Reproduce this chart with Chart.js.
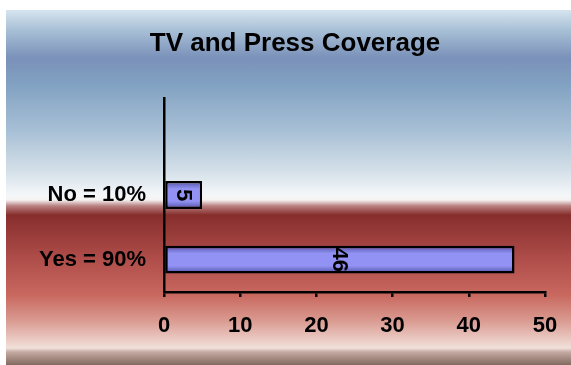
<!DOCTYPE html>
<html>
<head>
<meta charset="utf-8">
<script src="https://cdn.jsdelivr.net/npm/chart.js@4.4.0/dist/chart.umd.min.js"></script>
<style>
  html, body { margin: 0; padding: 0; background: #fff; }
  #wrap { position: relative; width: 571px; height: 365px; }
  #bg {
    position: absolute; left: 6px; top: 10px; right: 0; bottom: 0;
    background: linear-gradient(to bottom,
      #d6e4ef 0px, #a8c0d6 20px, #7a91b9 48px, #82a2c2 75px, #a7bfd5 120px,
      #d3dfe8 160px, #f4f7f9 185px, #f6f2f2 190px, #b88080 196px, #862e2c 205px,
      #b04e4b 250px, #c8685f 285px, #d9998f 310px, #f1e0da 338px, #c4aaa2 342px, #836a60 355px);
  }
  #myChart { position: absolute; left: 0; top: 0; }
</style>
</head>
<body>
<div id="wrap">
  <div id="bg"></div>
  <canvas id="myChart" width="571" height="365"></canvas>
</div>
<script>
// data
var chartTitle = 'TV and Press Coverage';
var categories = ['', 'No = 10%', 'Yes = 90%'];
var counts = [null, 5, 46];
var xMin = 0, xMax = 50, xStep = 10;

Chart.defaults.font.family = '"Liberation Sans", Arial, sans-serif';
Chart.defaults.font.weight = 'bold';
Chart.defaults.color = '#000';

// numbers written sideways inside the bars + the title
var barLabels = {
  id: 'barLabels',
  afterDatasetsDraw: function (chart) {
    var ctx = chart.ctx;
    chart.getDatasetMeta(0).data.forEach(function (bar, i) {
      if (counts[i] == null) return;
      ctx.save();
      ctx.translate((bar.x + bar.base) / 2, bar.y);
      ctx.rotate(Math.PI / 2);
      ctx.font = 'bold 22px "Liberation Sans", Arial, sans-serif';
      ctx.fillStyle = '#000';
      ctx.textAlign = 'center';
      ctx.textBaseline = 'middle';
      ctx.fillText(String(counts[i]), 0, 1);
      ctx.restore();
    });
    ctx.save();
    ctx.font = 'bold 26px "Liberation Sans", Arial, sans-serif';
    ctx.fillStyle = '#000';
    ctx.textAlign = 'center';
    ctx.textBaseline = 'alphabetic';
    ctx.fillText(chartTitle, 295, 51);
    ctx.restore();
  }
};

var ctx = document.getElementById('myChart');
var myChart = new Chart(ctx, {
  type: 'bar',
  plugins: [barLabels],
  data: {
    labels: categories,
    datasets: [{
      data: counts,
      borderColor: '#000',
      borderWidth: 2.5,
      borderSkipped: false,
      categoryPercentage: 1,
      barPercentage: 0.43,
      backgroundColor: function (c) {
        var chart = c.chart, ys = chart.scales.y;
        if (!ys || !chart.chartArea) return '#9090f0';
        var cy = ys.getPixelForValue(c.dataIndex);
        var g = chart.ctx.createLinearGradient(0, cy - 14, 0, cy + 14);
        g.addColorStop(0, '#4e4ea4');
        g.addColorStop(0.28, '#9292f4');
        g.addColorStop(0.72, '#9292f4');
        g.addColorStop(1, '#4e4ea4');
        return g;
      }
    }]
  },
  options: {
    responsive: false,
    animation: false,
    indexAxis: 'y',
    layout: { padding: { left: 10, right: 26, top: 98, bottom: 0 } },
    plugins: {
      legend: { display: false },
      tooltip: { enabled: false },
      title: { display: false }
    },
    scales: {
      x: {
        min: xMin,
        max: xMax,
        afterFit: function (s) { s.height = 73; s.paddingLeft = 0; s.paddingRight = 0; },
        grid: { drawOnChartArea: false, drawTicks: true, tickLength: 5, color: '#000', lineWidth: 2.5 },
        border: { display: true, color: '#000', width: 2.5 },
        ticks: { stepSize: xStep, padding: 16, font: { size: 22, weight: 'bold' }, color: '#000' }
      },
      y: {
        afterFit: function (s) { s.width = 154; s.paddingTop = 0; s.paddingBottom = 0; },
        grid: { drawOnChartArea: false, drawTicks: false },
        border: { display: true, color: '#000', width: 2.5 },
        ticks: { padding: 18, font: { size: 22, weight: 'bold' }, color: '#000' }
      }
    }
  }
});
</script>
</body>
</html>
